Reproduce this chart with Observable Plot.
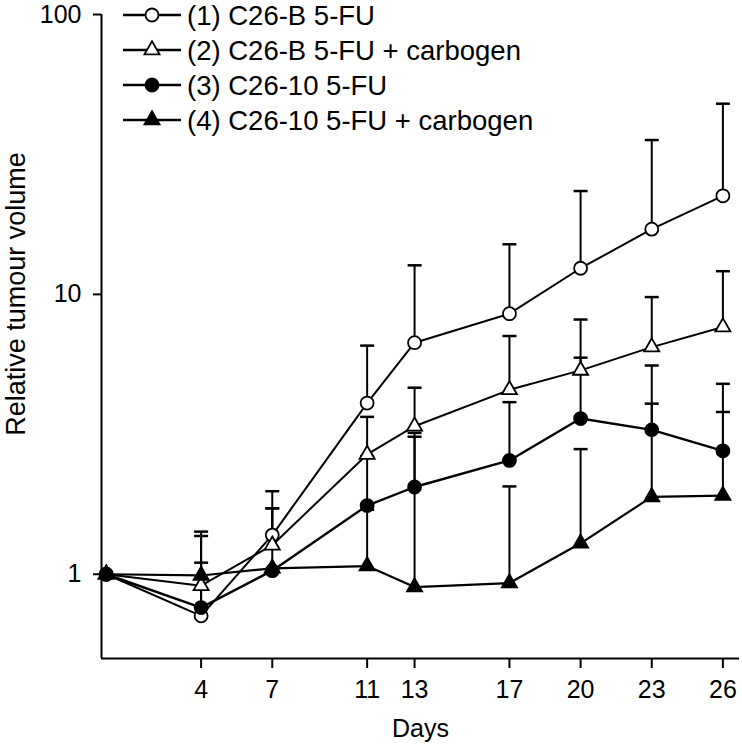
<!DOCTYPE html>
<html><head><meta charset="utf-8">
<script src="https://cdn.jsdelivr.net/npm/d3@7"></script>
<script src="https://cdn.jsdelivr.net/npm/@observablehq/plot@0.6"></script>
<style>
body{margin:0;background:#fff}
#wrap{position:relative;width:742px;height:749px}
#wrap svg g[aria-label$="tick"] path{stroke-width:2px}
#overlay{position:absolute;left:0;top:0;pointer-events:none}
</style>
</head><body><div id="wrap"></div>
<script>
// ---- data ----
const days = [0, 4, 7, 11, 13, 17, 20, 23, 26];
const seriesNames = [
  "(1) C26-B 5-FU",
  "(2) C26-B 5-FU + carbogen",
  "(3) C26-10 5-FU",
  "(4) C26-10 5-FU + carbogen"
];
const s1Mean  = [1.00, 0.71, 1.38, 4.09, 6.72, 8.53, 12.4, 17.1, 22.5];
const s1Upper = [null, 1.42, 1.98, 6.56, 12.7, 15.1, 23.4, 35.6, 48.0];
const s2Mean  = [1.00, 0.91, 1.27, 2.68, 3.38, 4.56, 5.35, 6.48, 7.65];
const s2Upper = [null, 1.37, 1.72, 3.65, 4.64, 7.10, 8.13, 9.78, 12.1];
const s3Mean  = [1.00, 0.76, 1.03, 1.76, 2.05, 2.55, 3.60, 3.28, 2.76];
const s3Upper = [null, 1.10, 1.72, 2.64, 3.20, 4.12, 5.94, 5.57, 4.79];
const s4Mean  = [1.00, 0.99, 1.05, 1.07, 0.90, 0.93, 1.29, 1.89, 1.91];
const s4Upper = [null, null, null, 1.70, 3.10, 2.06, 2.80, 4.07, 3.80];
const xTicks = [4, 7, 11, 13, 17, 20, 23, 26];
const yTicks = [1, 10, 100];
const xDomain = [-0.2, 26.7];
const yDomain = [0.5, 100];
const xLabel = "Days";
const yLabel = "Relative tumour volume";

const series = [
  {name: seriesNames[0], mean: s1Mean, upper: s1Upper, symbol: "circle",   fill: "white", sw: 2,   r: 6.5},
  {name: seriesNames[1], mean: s2Mean, upper: s2Upper, symbol: "triangle", fill: "white", sw: 2,   r: 5.6},
  {name: seriesNames[2], mean: s3Mean, upper: s3Upper, symbol: "circle",   fill: "black", sw: 2.4, r: 6.5},
  {name: seriesNames[3], mean: s4Mean, upper: s4Upper, symbol: "triangle", fill: "black", sw: 2.2, r: 5.6}
];
series.forEach(s => {
  s.rows = days.map((d, i) => ({day: d, mean: s.mean[i], upper: s.upper[i]}));
  s.bars = s.rows.filter(r => r.upper != null);
});

const capSymbol = {
  draw(ctx, size) {
    const w = Math.sqrt(size / Math.PI);
    ctx.moveTo(-w, 0); ctx.lineTo(w, 0);
  }
};

const marks = [
  Plot.ruleX([xDomain[0]], {stroke: "black", strokeWidth: 2}),
  Plot.ruleY([yDomain[0]], {stroke: "black", strokeWidth: 2})
];
series.forEach(s => {
  marks.push(Plot.ruleX(s.bars, {x: "day", y1: "mean", y2: "upper", stroke: "black", strokeWidth: 2}));
  marks.push(Plot.dot(s.bars, {x: "day", y: "upper", symbol: capSymbol, r: 7, stroke: "black", strokeWidth: 2.5, fill: "none"}));
});
series.forEach(s => {
  marks.push(Plot.line(s.rows, {x: "day", y: "mean", stroke: "black", strokeWidth: s.sw}));
});
series.forEach(s => {
  marks.push(Plot.dot(s.rows, {x: "day", y: "mean", symbol: s.symbol, r: s.r, fill: s.fill, stroke: "black", strokeWidth: 1.8}));
});

const font = "'Liberation Sans', Arial, sans-serif";
const chart = Plot.plot({
  width: 742,
  height: 749,
  marginLeft: 101,
  marginRight: 3,
  marginTop: 14,
  marginBottom: 91,
  style: {fontFamily: font, fontSize: "25px", color: "black", background: "white", overflow: "visible"},
  x: {domain: xDomain, ticks: xTicks, tickSize: 10, tickPadding: 12, label: xLabel, labelAnchor: "center", labelOffset: 78, labelArrow: "none"},
  y: {type: "log", domain: yDomain, ticks: yTicks, tickFormat: d => String(d), tickSize: 8, tickPadding: 12, label: null},
  marks
});
const wrap = document.getElementById("wrap");
wrap.appendChild(chart);

// ---- overlay: y-axis title and in-plot legend ----
const ov = d3.select(wrap).append("svg").attr("id", "overlay").attr("width", 742).attr("height", 749);
ov.append("text")
  .attr("transform", "translate(25,294) rotate(-90)")
  .attr("text-anchor", "middle")
  .attr("font-family", font).attr("font-size", 27)
  .text(yLabel);
series.forEach((s, i) => {
  const g = ov.append("g").attr("transform", `translate(0,${15 + i * 35})`);
  g.append("line").attr("x1", 123).attr("x2", 181).attr("y1", 0).attr("y2", 0)
    .attr("stroke", "black").attr("stroke-width", s.sw + 0.3);
  const sym = s.symbol === "circle" ? d3.symbolCircle : d3.symbolTriangle;
  g.append("path").attr("transform", "translate(152,0)")
    .attr("d", d3.symbol(sym, Math.PI * s.r * s.r)())
    .attr("fill", s.fill).attr("stroke", "black").attr("stroke-width", 1.8);
  g.append("text").attr("x", 187).attr("y", 0).attr("dy", "0.36em")
    .attr("font-family", font).attr("font-size", 27.5)
    .text(s.name);
});
</script>
</body></html>
